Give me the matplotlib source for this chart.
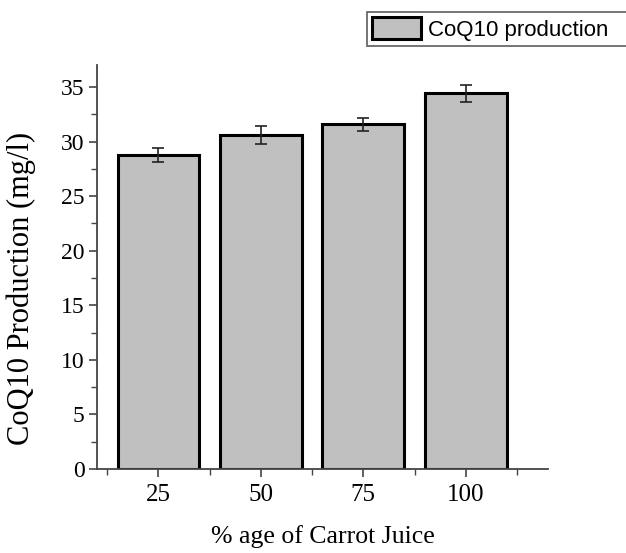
import matplotlib.pyplot as plt
from matplotlib.ticker import MultipleLocator

# CoQ10 production vs carrot juice percentage
juice = [25, 50, 75, 100]
coq10 = [28.8, 30.6, 31.6, 34.45]
erro = [0.65, 0.85, 0.6, 0.78]

fig = plt.figure(figsize=(6.26, 5.53), dpi=100)
ax = fig.add_axes([0.155, 0.152, 0.72, 0.73])

ax.bar(juice, coq10, width=20, color='#c0c0c0', edgecolor='black', linewidth=2.2,
       label='CoQ10 production', zorder=2)
ax.errorbar(juice, coq10, yerr=erro, fmt='none', ecolor='#222222', elinewidth=1.2,
            capsize=4, capthick=1.2, zorder=3)

ax.set_xlim(10, 120)
ax.set_ylim(0, 37)
ax.set_xticks(juice)
ax.xaxis.set_minor_locator(MultipleLocator(12.5))
ax.yaxis.set_major_locator(MultipleLocator(5))
ax.yaxis.set_minor_locator(MultipleLocator(2.5))

for s in ['top', 'right']:
    ax.spines[s].set_visible(False)
for s in ['left', 'bottom']:
    ax.spines[s].set_color('#444444')
    ax.spines[s].set_linewidth(1.3)

ax.tick_params(which='major', direction='out', length=6, width=1.2, color='#444444',
               labelsize=18, pad=5)
ax.tick_params(axis='y', which='major', labelsize=17, pad=3)
ax.tick_params(which='minor', direction='out', length=4, width=1.0, color='#444444')
for lab in ax.get_xticklabels() + ax.get_yticklabels():
    lab.set_family('Liberation Serif')

ax.set_xlabel('% age of Carrot Juice', family='Liberation Serif', fontsize=18.5)
ax.xaxis.set_label_coords(0.5, -0.14)
ax.set_ylabel('CoQ10 Production (mg/l)', family='Liberation Serif', fontsize=22)
ax.yaxis.set_label_coords(-0.135, 0.447)

leg = fig.legend(loc='upper left', bbox_to_anchor=(0.586, 0.979, 0.45, 0.0), mode='expand',
                 frameon=True, fancybox=False, prop={'family': 'Liberation Sans', 'size': 16},
                 handlelength=2.2, handleheight=1.15, borderpad=0.25, handletextpad=0.3,
                 borderaxespad=0)
leg.get_frame().set_edgecolor('#444444')
leg.get_frame().set_linewidth(1.3)

fig.savefig('out.png', dpi=100)
